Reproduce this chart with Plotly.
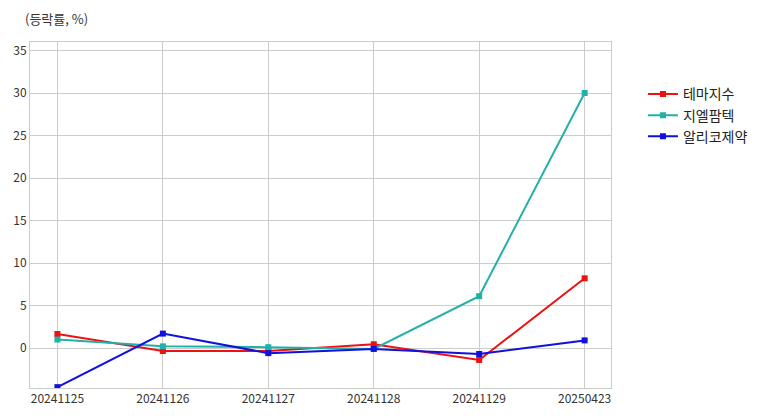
import plotly.graph_objects as go

dates = ["20241125", "20241126", "20241127", "20241128", "20241129", "20250423"]
theme_index = [1.65, -0.35, -0.35, 0.45, -1.4, 8.2]
glpharmtech = [1.0, 0.2, 0.1, -0.1, 6.1, 30.0]
alico = [-4.6, 1.7, -0.6, -0.1, -0.7, 0.9]

series = [
    ("테마지수", theme_index, "#ee1111"),
    ("지엘팜텍", glpharmtech, "#22b0a8"),
    ("알리코제약", alico, "#1111dd"),
]

font = "Noto Sans CJK KR"
fig = go.Figure()
for name, vals, col in series:
    fig.add_trace(go.Scatter(
        x=list(range(len(dates))), y=vals, name=name, mode="lines+markers",
        line=dict(color=col, width=2),
        marker=dict(symbol="square", size=6, color=col),
    ))

fig.update_layout(
    width=768, height=416,
    margin=dict(l=22, r=165, t=34, b=36, autoexpand=False),
    paper_bgcolor="white", plot_bgcolor="white",
    font=dict(family=font, size=12, color="#333333"),
    showlegend=True,
    legend=dict(x=1.055, y=0.895, xanchor="left", yanchor="top",
                font=dict(size=14, color="#222222"), tracegroupgap=0,
                bgcolor="rgba(0,0,0,0)"),
    annotations=[dict(text="(등락률, %)", xref="paper", yref="paper",
                      x=-0.012, y=1.0, xanchor="left", yanchor="bottom",
                      yshift=12, showarrow=False,
                      font=dict(size=13, color="#333333", family=font))],
)
fig.update_xaxes(
    tickmode="array", tickvals=list(range(len(dates))), ticktext=dates,
    range=[-0.26, 5.25], showgrid=True, gridcolor="#cccccc", gridwidth=1,
    showline=True, linecolor="#cccccc", linewidth=1, mirror=True,
    zeroline=False, ticks="", tickfont=dict(size=12, color="#333333"),
    automargin=False,
)
fig.update_yaxes(
    range=[-4.7, 36.0], dtick=5, tick0=0, showgrid=True, gridcolor="#cccccc",
    gridwidth=1, showline=True, linecolor="#cccccc", linewidth=1, mirror=True,
    zeroline=False, ticks="", tickfont=dict(size=12, color="#333333"),
    automargin=False,
)
fig.write_html("out.html")
